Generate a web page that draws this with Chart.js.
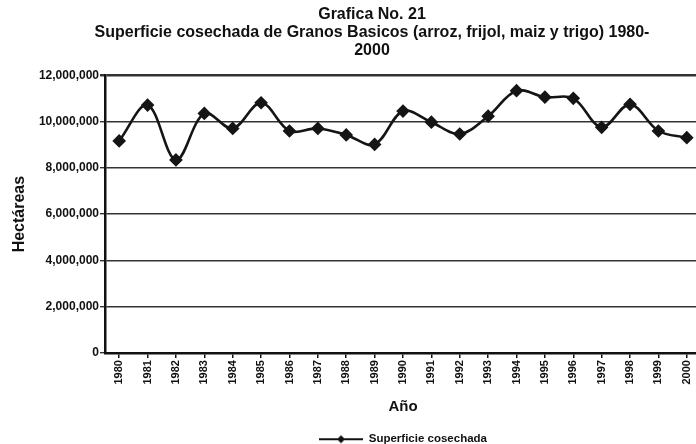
<!DOCTYPE html>
<html>
<head>
<meta charset="utf-8">
<script src="https://cdn.jsdelivr.net/npm/chart.js@4.4.0/dist/chart.umd.min.js"></script>
<style>
html, body { margin: 0; padding: 0; background: #fff; overflow: hidden; }
#wrap { width: 696px; height: 444px; overflow: hidden; }
#wrap canvas { display: block; }
</style>
</head>
<body>
<div id="wrap"><canvas id="grafica" width="744" height="444"></canvas></div>
<script>
// datos de la grafica
var years = ['1980', '1981', '1982', '1983', '1984', '1985', '1986', '1987', '1988', '1989', '1990',
             '1991', '1992', '1993', '1994', '1995', '1996', '1997', '1998', '1999', '2000'];
var superficie = [9160000, 10710000, 8340000, 10350000, 9700000, 10810000, 9590000, 9700000, 9420000, 9010000, 10450000,
                  9970000, 9460000, 10230000, 11330000, 11050000, 11000000, 9750000, 10740000, 9590000, 9300000];
var yTicks = [0, 2000000, 4000000, 6000000, 8000000, 10000000, 12000000];

var titleLines = ['Grafica No. 21', 'Superficie cosechada de Granos Basicos (arroz, frijol, maiz y trigo) 1980-', '2000'];

Chart.defaults.font.family = "'Liberation Sans', Arial, sans-serif";
Chart.defaults.color = '#111';

// icono de la leyenda: linea con rombo
var legendIcon = document.createElement('canvas');
legendIcon.width = 44;
legendIcon.height = 10;
var ictx = legendIcon.getContext('2d');
ictx.strokeStyle = '#111';
ictx.lineWidth = 2;
ictx.beginPath();
ictx.moveTo(0, 5);
ictx.lineTo(44, 5);
ictx.stroke();
ictx.fillStyle = '#111';
ictx.beginPath();
ictx.moveTo(22, 1);
ictx.lineTo(26, 5);
ictx.lineTo(22, 9);
ictx.lineTo(18, 5);
ictx.closePath();
ictx.fill();

var ctx = document.getElementById('grafica').getContext('2d');
var chart = new Chart(ctx, {
  type: 'line',
  data: {
    labels: years,
    datasets: [{
      label: 'Superficie cosechada',
      data: superficie,
      borderColor: '#151515',
      backgroundColor: '#151515',
      borderWidth: 2.6,
      tension: 0.35,
      pointStyle: 'rectRot',
      pointRadius: 5,
      pointBackgroundColor: '#151515',
      pointBorderColor: '#151515'
    }]
  },
  options: {
    responsive: false,
    animation: false,
    layout: { padding: { left: 0, right: 0, top: 0, bottom: -11 } },
    plugins: {
      title: {
        display: true,
        text: titleLines,
        color: '#111',
        font: { size: 16, weight: 'bold', lineHeight: 1.15 },
        padding: { top: 5, bottom: 15 }
      },
      legend: {
        position: 'bottom',
        fullSize: false,
        labels: {
          usePointStyle: true,
          pointStyleWidth: 44,
          padding: 2,
          color: '#111',
          font: { size: 11.5, weight: 'bold' },
          generateLabels: function(ch) {
            return ch.data.datasets.map(function(ds, i) {
              return { text: ds.label, pointStyle: legendIcon, datasetIndex: i, fontColor: '#111', lineWidth: 0 };
            });
          }
        }
      },
      tooltip: { enabled: false }
    },
    scales: {
      x: {
        offset: true,
        afterFit: function(scale) { scale.paddingRight = 43; },
        grid: { drawOnChartArea: false, drawTicks: true, tickLength: 5, color: '#111', lineWidth: 1.5 },
        border: { display: true, color: '#111', width: 2.5 },
        ticks: { minRotation: 90, maxRotation: 90, autoSkip: false, padding: 2, font: { size: 11, weight: 'bold' } },
        title: { display: true, text: 'Año', font: { size: 15, weight: 'bold' }, padding: { top: 11, bottom: 16 } }
      },
      y: {
        min: 0,
        max: 12000000,
        afterFit: function(scale) { scale.width = 105; },
        afterBuildTicks: function(scale) { scale.ticks = yTicks.map(function(v) { return { value: v }; }); },
        grid: {
          color: '#333',
          lineWidth: function(c) { return c.tick && c.tick.value === 12000000 ? 2.5 : 1.4; },
          drawTicks: true,
          tickLength: 5
        },
        border: { display: true, color: '#111', width: 2.5 },
        ticks: {
          padding: 1,
          font: { size: 12, weight: 'bold' },
          callback: function(v) { return v.toLocaleString('en-US'); }
        },
        title: { display: true, text: 'Hectáreas', font: { size: 16, weight: 'bold' }, padding: { top: 10, bottom: 0 } }
      }
    }
  }
});
</script>
</body>
</html>
